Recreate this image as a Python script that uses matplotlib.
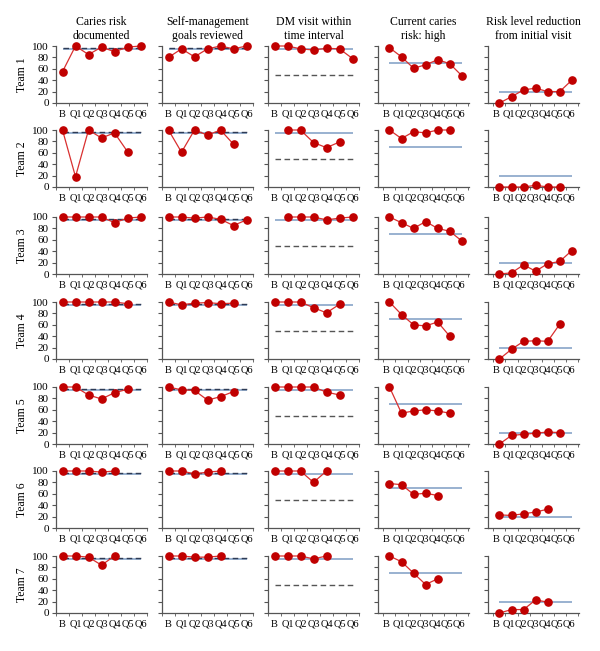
import matplotlib
matplotlib.use('Agg')
import numpy as np
import matplotlib.pyplot as plt

plt.rcParams['font.family'] = ['Liberation Serif', 'DejaVu Serif']

# quarterly performance by team, B = baseline, None = no data
periods = ['B', 'Q1', 'Q2', 'Q3', 'Q4', 'Q5', 'Q6']
teams = ['Team 1', 'Team 2', 'Team 3', 'Team 4', 'Team 5', 'Team 6', 'Team 7']
titles = ['Caries risk\ndocumented',
          'Self-management\ngoals reviewed',
          'DM visit within\ntime interval',
          'Current caries\nrisk: high',
          'Risk level reduction\nfrom initial visit']

risk_documented = [
    [55, 100, 85, 98, 90, 98, 100],
    [100, 18, 100, 86, 95, 62, None],
    [100, 100, 100, 100, 90, 98, 100],
    [100, 100, 100, 100, 100, 97, None],
    [100, 100, 86, 79, 90, 96, None],
    [100, 100, 100, 98, 100, None, None],
    [100, 100, 98, 84, 100, None, None],
]
goals_reviewed = [
    [80, 95, 81, 95, 100, 95, 100],
    [100, 61, 100, 91, 100, 75, None],
    [100, 100, 98, 100, 96, 85, 95],
    [100, 95, 98, 99, 97, 98, None],
    [100, 95, 94, 77, 83, 92, None],
    [100, 100, 95, 98, 100, None, None],
    [100, 100, 98, 98, 100, None, None],
]
dm_visit = [
    [100, 100, 95, 93, 96, 95, 78],
    [None, 100, 100, 78, 69, 79, None],
    [None, 100, 100, 100, 95, 98, 100],
    [100, 100, 100, 90, 81, 96, None],
    [100, 100, 100, 100, 91, 86, None],
    [100, 100, 100, 80, 100, None, None],
    [100, 100, 100, 95, 100, None, None],
]
caries_high = [
    [97, 81, 61, 67, 76, 69, 48],
    [100, 85, 97, 95, 100, 100, None],
    [100, 90, 80, 92, 80, 75, 58],
    [100, 78, 60, 58, 65, 40, None],
    [100, 54, 58, 60, 58, 54, None],
    [78, 76, 59, 61, 57, None, None],
    [100, 90, 70, 50, 60, None, None],
]
risk_reduction = [
    [0, 11, 23, 26, 20, 20, 40],
    [0, 0, 0, 3, 0, 0, None],
    [0, 2, 16, 5, 18, 22, 41],
    [0, 17, 31, 32, 31, 61, None],
    [0, 15, 17, 19, 21, 20, None],
    [23, 22, 25, 28, 33, None, None],
    [0, 6, 6, 23, 19, None, None],
]

goal = [95, 94, 94, 70, 20]          # solid blue reference line
benchmark = [97, 97, 50, None, None]  # dashed reference line

measures = [risk_documented, goals_reviewed, dm_visit, caries_high, risk_reduction]

W, H = 600, 651
col_left = [56, 162, 268, 378, 488]
row_top = [46, 130, 217, 302, 387, 471, 556]
aw, ah = 91, 57

fig = plt.figure(figsize=(W / 100, H / 100), dpi=100)
x = np.arange(len(periods))

for r in range(len(teams)):
    for c in range(len(measures)):
        ax = fig.add_axes([col_left[c] / W, 1 - (row_top[r] + ah) / H, aw / W, ah / H])
        y = np.array(measures[c][r], dtype=float)

        ax.hlines(goal[c], 0, 6, color='#7d9cc4', lw=1.1, zorder=1)
        if benchmark[c] is not None:
            dcol = '#2e3b55' if c < 2 else '#555555'
            ax.hlines(benchmark[c], 0, 6, colors=dcol, linestyles=(0, (4, 2.5)), lw=1.0, zorder=2)
        ax.plot(x, y, color='#d93030', lw=0.9, marker='o', ms=5.2,
                mfc='#c00000', mec='#c00000', clip_on=False, zorder=3)

        if c >= 3:
            ax.set_xlim(-0.95, 6.6)
            lab_pos = x - 0.25
        else:
            ax.set_xlim(-0.5, 6.5)
            lab_pos = x
        ax.set_ylim(0, 100)

        for s in ['top', 'right']:
            ax.spines[s].set_visible(False)
        for s in ['left', 'bottom']:
            ax.spines[s].set_color('#555555')
            ax.spines[s].set_linewidth(0.9)

        ax.set_yticks(np.arange(0, 101, 20))
        if c == 0:
            ax.tick_params(axis='y', labelsize=8, length=3, pad=2, color='#555555')
            ax.set_ylabel(teams[r], fontsize=8.5, labelpad=3)
        else:
            ax.tick_params(axis='y', labelleft=False, length=3, color='#555555')

        ax.set_xticks(lab_pos)
        ax.set_xticklabels(periods)
        ax.tick_params(axis='x', labelsize=7.5, length=0, pad=5)
        ax.set_xticks(np.arange(-0.5, 7, 1), minor=True)
        ax.tick_params(axis='x', which='minor', length=2.5, color='#555555')

        if r == 0:
            ax.set_title(titles[c], fontsize=8.5, pad=5, linespacing=1.2)

fig.savefig('out.png', dpi=100)
